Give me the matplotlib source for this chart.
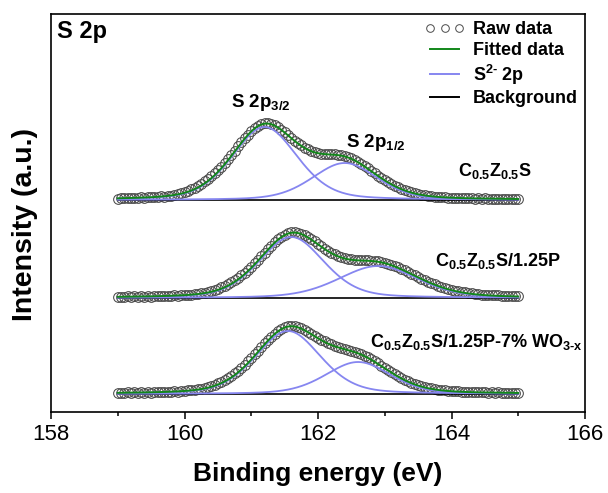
import numpy as np
import matplotlib
matplotlib.use("Agg")
import matplotlib.pyplot as plt
from matplotlib.lines import Line2D

plt.rcParams["font.family"] = ["Liberation Sans", "DejaVu Sans"]
plt.rcParams["mathtext.fontset"] = "custom"
plt.rcParams["mathtext.rm"] = "Liberation Sans:bold"
plt.rcParams["mathtext.it"] = "Liberation Sans:bold"
plt.rcParams["mathtext.bf"] = "Liberation Sans:bold"
plt.rcParams["mathtext.sf"] = "Liberation Sans:bold"
plt.rcParams["mathtext.default"] = "rm"

# ---------------- data ----------------
# binding-energy grid of the measurement (eV)
energy = np.round(np.arange(159.0, 165.0001, 0.05), 2)

sample_names = [
    r"C$_{0.5}$Z$_{0.5}$S",
    r"C$_{0.5}$Z$_{0.5}$S/1.25P",
    r"C$_{0.5}$Z$_{0.5}$S/1.25P-7% WO$_{\text{3-x}}$",
]

# background-subtracted raw intensities (a.u.)
raw_czs = np.array([
    1.5, 2.1, 1.7, 2.2, 1.8, 2.4, 2.0, 2.6, 2.3, 2.9,
    2.6, 3.3, 3.0, 3.7, 3.5, 4.4, 4.3, 5.4, 5.9, 6.9,
    7.9, 9.1, 10.6, 12.2, 14.1, 16.2, 18.6, 21.0, 23.9, 26.8,
    30.0, 33.4, 37.1, 41.0, 45.2, 49.4, 53.6, 57.9, 61.8, 65.5,
    68.9, 71.6, 74.3, 75.9, 76.9, 76.6, 76.1, 74.6, 72.9, 70.4,
    67.9, 64.9, 62.3, 59.5, 56.8, 54.6, 52.3, 50.6, 49.2, 47.9,
    47.2, 46.5, 46.3, 45.9, 45.8, 45.6, 45.3, 44.9, 44.0, 43.0,
    41.6, 40.1, 38.1, 36.2, 33.9, 31.6, 29.2, 26.9, 24.5, 22.3,
    20.1, 17.9, 16.1, 14.2, 12.7, 11.1, 9.9, 8.6, 7.7, 6.7,
    6.0, 5.2, 4.8, 4.2, 3.9, 3.4, 3.3, 2.8, 2.8, 2.4,
    2.5, 2.0, 2.2, 1.8, 2.0, 1.6, 1.9, 1.5, 1.7, 1.3,
    1.6, 1.2, 1.5, 1.1, 1.4, 1.0, 1.3, 0.9, 1.2, 0.8,
    1.1,
])
raw_czs_p = np.array([
    0.9, 1.5, 1.0, 1.6, 1.1, 1.7, 1.2, 1.8, 1.3, 1.9,
    1.5, 2.1, 1.6, 2.2, 1.8, 2.4, 2.0, 2.7, 2.3, 2.9,
    2.7, 3.3, 3.4, 4.0, 4.3, 4.9, 5.5, 6.3, 7.1, 8.1,
    9.3, 10.6, 12.1, 13.8, 15.7, 17.9, 20.2, 22.8, 25.5, 28.4,
    31.5, 34.8, 38.3, 41.9, 45.4, 49.0, 52.5, 55.8, 58.7, 61.3,
    63.3, 64.9, 65.7, 65.8, 65.4, 64.3, 62.9, 61.0, 58.8, 56.6,
    54.1, 51.8, 49.5, 47.4, 45.4, 43.7, 42.3, 41.0, 40.1, 39.3,
    38.8, 38.5, 38.2, 38.1, 37.9, 37.8, 37.5, 37.2, 36.8, 36.1,
    35.4, 34.4, 33.4, 32.0, 30.7, 29.1, 27.7, 26.0, 24.4, 22.7,
    21.2, 19.5, 18.0, 16.4, 15.1, 13.7, 12.5, 11.3, 10.3, 9.2,
    8.4, 7.5, 6.9, 6.1, 5.7, 5.0, 4.7, 4.1, 3.9, 3.5,
    3.3, 2.9, 2.9, 2.6, 2.6, 2.3, 2.4, 2.1, 2.2, 1.9,
    2.0,
])
raw_czs_p_wo = np.array([
    0.8, 1.5, 1.0, 1.6, 1.1, 1.7, 1.2, 1.8, 1.4, 1.9,
    1.5, 2.1, 1.7, 2.3, 1.9, 2.5, 2.2, 2.7, 2.5, 3.1,
    3.0, 3.6, 3.8, 4.4, 4.8, 5.4, 6.1, 7.0, 8.0, 9.2,
    10.6, 12.2, 14.0, 16.0, 18.3, 20.7, 23.4, 26.3, 29.4, 32.7,
    36.2, 39.8, 43.4, 47.1, 50.7, 54.1, 57.4, 60.4, 63.2, 65.3,
    66.9, 67.9, 68.3, 68.0, 67.1, 65.9, 64.2, 62.3, 60.3, 58.3,
    56.3, 54.3, 52.6, 51.0, 49.6, 48.3, 47.3, 46.3, 45.3, 44.5,
    43.5, 42.4, 41.2, 39.9, 38.4, 36.6, 34.7, 32.7, 30.6, 28.4,
    26.2, 24.0, 21.9, 19.9, 17.9, 16.0, 14.4, 12.7, 11.3, 10.0,
    8.9, 7.8, 7.0, 6.1, 5.6, 4.8, 4.5, 3.9, 3.7, 3.2,
    3.1, 2.7, 2.7, 2.3, 2.4, 2.0, 2.2, 1.8, 2.0, 1.6,
    1.9, 1.5, 1.7, 1.3, 1.6, 1.2, 1.5, 1.1, 1.4, 1.0,
    1.3,
])
raw_spectra = [raw_czs, raw_czs_p, raw_czs_p_wo]

# fitted S 2p doublet components: position (eV), height (a.u.), FWHM (eV)
p32_center = [161.20, 161.60, 161.55]
p32_height = [73.0, 61.0, 63.0]
p32_fwhm = [1.15, 1.15, 1.15]
p12_center = [162.40, 162.90, 162.60]
p12_height = [37.0, 32.0, 32.0]
p12_fwhm = [1.15, 1.40, 1.15]

# vertical stacking of the spectra (a.u.)
stack_offset = [212.0, 114.0, 18.0]


def pseudo_voigt(x, center, height, fwhm, mix=0.3):
    d2 = 4.0 * (x - center) ** 2 / fwhm ** 2
    return height * ((1.0 - mix) * np.exp(-np.log(2.0) * d2) + mix / (1.0 + d2))


GREEN = "#12871a"
BLUE = "#8686f0"
GREY = "#4a4a4a"

fig = plt.figure(figsize=(6.08, 4.93), dpi=100)
ax = fig.add_axes([51 / 608, 81 / 493, 534 / 608, 398 / 493])

e_fine = np.linspace(energy[0], energy[-1], 601)
for i, raw in enumerate(raw_spectra):
    off = stack_offset[i]
    comp_a = pseudo_voigt(e_fine, p32_center[i], p32_height[i], p32_fwhm[i])
    comp_b = pseudo_voigt(e_fine, p12_center[i], p12_height[i], p12_fwhm[i])
    background = np.zeros_like(e_fine)
    ax.plot(energy, raw + off, ls="none", marker="o", ms=7.0, mfc="none",
            mec=GREY, mew=0.75, zorder=2)
    ax.plot(e_fine, background + off, color="black", lw=1.2, zorder=3)
    ax.plot(e_fine, comp_a + off, color=BLUE, lw=1.3, zorder=4)
    ax.plot(e_fine, comp_b + off, color=BLUE, lw=1.3, zorder=4)
    ax.plot(e_fine, comp_a + comp_b + off, color=GREEN, lw=1.4, zorder=5)

# sample names next to each spectrum
name_pos = [(164.10, 236.0), (163.75, 146.0), (162.78, 65.0)]
for name, (nx, ny) in zip(sample_names, name_pos):
    ax.text(nx, ny, name, fontsize=13, fontweight="bold", ha="left",
            va="baseline", zorder=6)

# doublet labels
ax.text(161.15, 305.0, r"S 2p$_{3/2}$", fontsize=13.5, fontweight="bold",
        ha="center", va="baseline")
ax.text(162.87, 265.0, r"S 2p$_{1/2}$", fontsize=13.5, fontweight="bold",
        ha="center", va="baseline")

ax.text(0.011, 0.985, "S 2p", transform=ax.transAxes, fontsize=17,
        fontweight="bold", ha="left", va="top")

handles = [
    Line2D([], [], ls="none", marker="o", ms=5.5, mfc="none", mec=GREY, mew=0.7),
    Line2D([], [], color=GREEN, lw=1.4),
    Line2D([], [], color=BLUE, lw=1.4),
    Line2D([], [], color="black", lw=1.4),
]
labels = ["Raw data", "Fitted data", r"S$^{\text{2-}}$ 2p", "Background"]
leg = ax.legend(handles, labels, loc="upper right", frameon=False,
                numpoints=3, handlelength=2.2,
                handletextpad=0.45, labelspacing=0.2, borderpad=0.3,
                borderaxespad=0.1, prop={"weight": "bold", "size": 13})

ax.set_xlim(158, 166)
ax.set_ylim(0, 398)
ax.set_yticks([])
ax.set_xticks([158, 160, 162, 164, 166])
ax.set_xticks([159, 161, 163, 165], minor=True)
ax.tick_params(axis="x", which="major", direction="out", length=5, width=1.1,
               labelsize=16, pad=4)
ax.tick_params(axis="x", which="minor", direction="out", length=3, width=1.1)
for sp in ax.spines.values():
    sp.set_linewidth(1.2)

ax.set_xlabel("Binding energy (eV)", fontsize=19, fontweight="bold")
ax.xaxis.set_label_coords(0.5, -0.125)
ax.set_ylabel("Intensity (a.u.)", fontsize=20.5, fontweight="bold")
ax.yaxis.set_label_coords(-0.024, 0.47)

fig.savefig("out.png", dpi=100)
